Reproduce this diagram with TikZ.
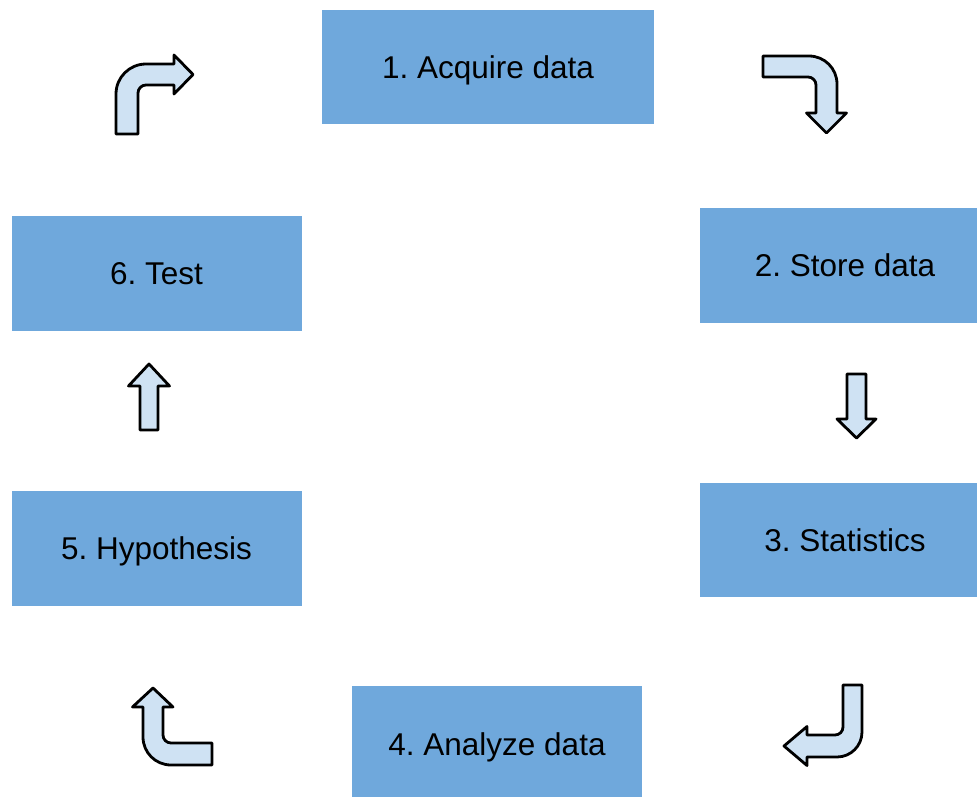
\documentclass[tikz,border=0pt]{standalone}
\usepackage{fontspec}
\setmainfont{Liberation Sans}
\frenchspacing
\definecolor{boxblue}{HTML}{6FA8DC}
\definecolor{arrowfill}{HTML}{CFE2F3}
\begin{document}
\begin{tikzpicture}[x=1pt,y=-1pt,
  stagebox/.style={fill=boxblue, draw=none, inner sep=0pt, minimum width=290pt,
    minimum height=115pt, text height=22.6pt, text depth=0pt,
    font=\fontsize{31.5}{38}\selectfont\frenchspacing},
  blockarrow/.style={draw=black, fill=arrowfill, line width=2.8pt, line join=round}]
\useasboundingbox (0,0) rectangle (977,796);
\fill[white] (0,0) rectangle (977,796);
\begin{scope}
\clip (0,0) rectangle (977,796);
\node[stagebox, minimum width=332pt, minimum height=114pt] (s1) at (488,67) {1. Acquire data};
\node[stagebox] (s2) at (845,265.5) {2. Store data};
\node[stagebox, minimum height=114pt] (s3) at (845,540) {3. Statistics};
\node[stagebox, minimum height=116pt] (s4) at (497,744) {4. Analyze data};
\node[stagebox] (s5) at (156.5,548) {5. Hypothesis};
\node[stagebox] (s6) at (156.5,273.5) {6. Test};
\end{scope}
% arrow 1: up then right
\draw[blockarrow] (116,134) -- (116,94) .. controls (116,77.4) and (129.4,64) .. (146,64)
  -- (174,64) -- (174,55) -- (193,74.5) -- (174,94) -- (174,85) -- (146,85)
  .. controls (141.6,85) and (138,88.6) .. (138,93) -- (138,134) -- cycle;
% arrow 2: right then down
\draw[blockarrow] (763,56) -- (809,56) .. controls (824.5,56) and (837,68.5) .. (837,84)
  -- (837,113) -- (846.5,113) -- (826.5,133) -- (806.5,113) -- (816,113) -- (816,85)
  .. controls (816,80.6) and (812.4,77) .. (808,77) -- (763,77) -- cycle;
% arrow 3: down
\draw[blockarrow] (847,374) -- (866,374) -- (866,419) -- (876,419) -- (856.5,438)
  -- (837,419) -- (847,419) -- cycle;
% arrow 4: down then left
\draw[blockarrow] (843,685) -- (862,685) -- (862,732) .. controls (862,745.8) and (850.8,757) .. (837,757)
  -- (807,757) -- (807,765.5) -- (784,746) -- (807,726.5) -- (807,735) -- (835,735)
  .. controls (839.4,735) and (843,731.4) .. (843,727) -- cycle;
% arrow 5: left then up
\draw[blockarrow] (212,743) -- (171,743) .. controls (166.6,743) and (163,739.4) .. (163,735)
  -- (163,707) -- (173,707) -- (153,688) -- (132.5,707) -- (143,707) -- (143,737)
  .. controls (143,752.5) and (155.5,765) .. (171,765) -- (212,765) -- cycle;
% arrow 6: up
\draw[blockarrow] (140,430) -- (158,430) -- (158,386) -- (169.5,386) -- (149,364)
  -- (128.5,386) -- (140,386) -- cycle;
\end{tikzpicture}
\end{document}
